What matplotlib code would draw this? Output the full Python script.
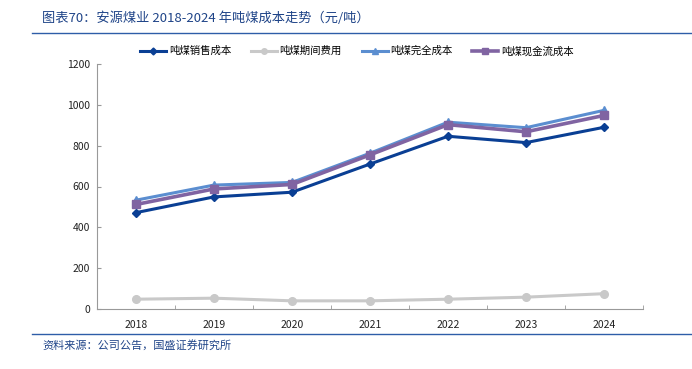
import matplotlib
matplotlib.use("Agg")
import matplotlib.pyplot as plt
from matplotlib.lines import Line2D

plt.rcParams['font.family'] = ['Noto Sans CJK SC', 'DejaVu Sans']

years = ['2018', '2019', '2020', '2021', '2022', '2023', '2024']
sales_cost = [472, 549, 572, 710, 846, 815, 890]
period_exp = [48, 53, 40, 40, 48, 58, 75]
full_cost = [533, 607, 620, 763, 915, 888, 973]
cash_cost = [512, 588, 610, 755, 903, 868, 948]
series_names = ['吨煤销售成本', '吨煤期间费用', '吨煤完全成本', '吨煤现金流成本']
y_ticks = [0, 200, 400, 600, 800, 1000, 1200]

fig = plt.figure(figsize=(6.92, 3.69), dpi=100)
ax = fig.add_axes([97/692, 1 - 309/369, 546/692, 245/369])

x = list(range(len(years)))
ax.plot(x, period_exp, color='#C9C9C9', lw=2.2, marker='o', ms=5.5, zorder=2)
ax.plot(x, sales_cost, color='#0A3F94', lw=2.2, marker='D', ms=4.5, zorder=3)
ax.plot(x, full_cost, color='#5B8ED0', lw=2.2, marker='^', ms=5.5, zorder=4)
ax.plot(x, cash_cost, color='#8064A2', lw=2.6, marker='s', ms=6, zorder=5)

ax.set_xlim(-0.5, len(years) - 0.5)
ax.set_ylim(0, 1200)
ax.set_yticks(y_ticks)
ax.set_yticklabels([str(v) for v in y_ticks], fontsize=7.5, color='#222222')
ax.set_xticks(x)
ax.set_xticklabels(years, fontsize=7.5, color='#222222')
ax.tick_params(axis='x', length=0, pad=8)
ax.set_xticks([i + 0.5 for i in x], minor=True)
ax.tick_params(axis='x', which='minor', direction='in', length=3, color='#999999')
ax.tick_params(axis='y', direction='in', length=3, color='#999999', pad=5)
for s in ['top', 'right']:
    ax.spines[s].set_visible(False)
for s in ['left', 'bottom']:
    ax.spines[s].set_color('#999999')
    ax.spines[s].set_linewidth(0.8)

handles = [
    Line2D([], [], color='#0A3F94', lw=2.2, marker='D', ms=3.5),
    Line2D([], [], color='#C9C9C9', lw=2.2, marker='o', ms=4),
    Line2D([], [], color='#5B8ED0', lw=2.2, marker='^', ms=4),
    Line2D([], [], color='#8064A2', lw=2.6, marker='s', ms=4),
]
fig.legend(handles, series_names, loc='center', bbox_to_anchor=(357/692, 1 - 51/369),
           ncol=4, frameon=False, fontsize=7.5, handlelength=2.5, columnspacing=1.9,
           handletextpad=0.25)

title_color = '#1F4488'
fig.text(42/692, 1 - 18/369, '图表70：安源煤业 2018-2024 年吨煤成本走势（元/吨）',
         fontsize=9.5, color=title_color, style='italic', va='center', ha='left')
fig.add_artist(Line2D([32/692, 1], [1 - 33/369, 1 - 33/369], color='#2E5DA8', lw=1.0,
                      transform=fig.transFigure))
fig.add_artist(Line2D([32/692, 1], [1 - 334/369, 1 - 334/369], color='#2E5DA8', lw=1.0,
                      transform=fig.transFigure))
fig.text(42/692, 1 - 345/369, '资料来源：公司公告，国盛证券研究所',
         fontsize=8, color=title_color, style='italic', va='center', ha='left')

fig.savefig('out.png', dpi=100)
